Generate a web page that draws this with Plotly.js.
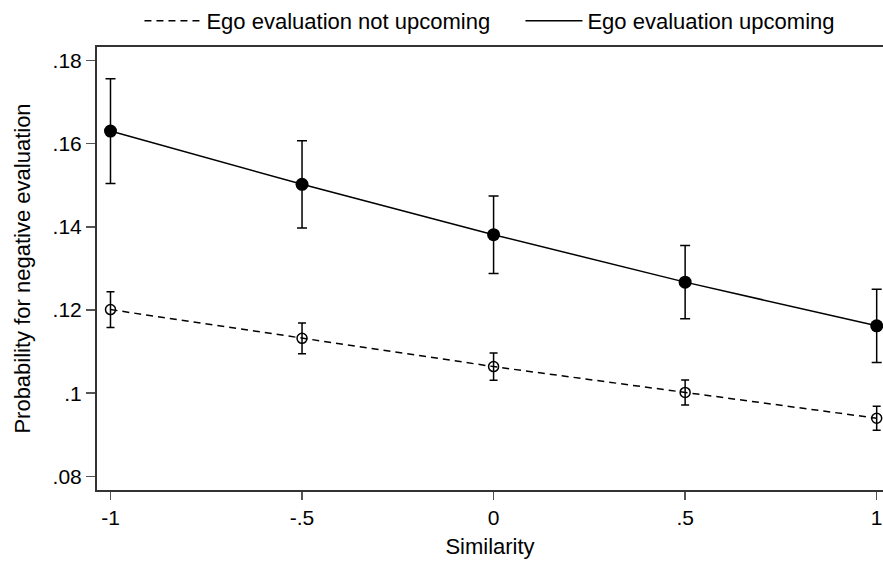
<!DOCTYPE html>
<html>
<head>
<meta charset="utf-8">
<script src="https://cdn.plot.ly/plotly-3.0.1.min.js"></script>
<style>html,body{margin:0;padding:0;background:#fff;}#chart{width:883px;height:561px;}</style>
</head>
<body>
<div id="chart"></div>
<script>
const similarity = [-1, -0.5, 0, 0.5, 1];
const notUpcoming = [0.1201, 0.1132, 0.1064, 0.1002, 0.0940];
const notUpcomingErr = [0.0043, 0.0037, 0.0033, 0.0030, 0.0029];
const upcoming = [0.1630, 0.1502, 0.1381, 0.1267, 0.1162];
const upcomingErr = [0.0126, 0.0105, 0.0093, 0.0088, 0.0088];
const xTickVals = [-1, -0.5, 0, 0.5, 1];
const xTickText = ['-1', '-.5', '0', '.5', '1'];
const yTickVals = [0.08, 0.10, 0.12, 0.14, 0.16, 0.18];
const yTickText = ['.08', '.1', '.12', '.14', '.16', '.18'];

const traces = [
  {x: similarity, y: notUpcoming, mode: 'lines', name: 'Ego evaluation not upcoming',
   line: {color: '#000', width: 1.5, dash: '7px,5px'}, showlegend: true, hoverinfo: 'skip'},
  {x: similarity, y: upcoming, mode: 'lines', name: 'Ego evaluation upcoming',
   line: {color: '#000', width: 1.5}, showlegend: true, hoverinfo: 'skip'},
  {x: similarity, y: notUpcoming, mode: 'markers', showlegend: false,
   marker: {symbol: 'circle-open', size: 10, color: '#000', line: {width: 1.5}},
   error_y: {type: 'data', array: notUpcomingErr, visible: true, color: '#000', thickness: 1.5, width: 4}},
  {x: similarity, y: upcoming, mode: 'markers', showlegend: false,
   marker: {symbol: 'circle', size: 13, color: '#000'},
   error_y: {type: 'data', array: upcomingErr, visible: true, color: '#000', thickness: 1.5, width: 5}}
];

const layout = {
  width: 883, height: 561,
  margin: {l: 97, r: 0, t: 47, b: 71, pad: 0, autoexpand: false},
  paper_bgcolor: '#fff', plot_bgcolor: '#fff',
  font: {family: 'Liberation Sans, Arial, sans-serif', size: 21, color: '#000'},
  showlegend: true,
  legend: {orientation: 'h', x: 0.054, xanchor: 'left', yref: 'container', y: 1, yanchor: 'top',
           font: {size: 22, color: '#000'}, entrywidth: 309, entrywidthmode: 'pixels', itemwidth: 57,
           bgcolor: 'rgba(0,0,0,0)'},
  xaxis: {range: [-1.0352, 1.0165], tickvals: xTickVals, ticktext: xTickText,
          showgrid: false, zeroline: false, showline: true, linecolor: '#333', linewidth: 2,
          mirror: true, ticks: 'outside', ticklen: 8, tickwidth: 1.5, tickcolor: '#555',
          title: {text: 'Similarity', font: {size: 22}, standoff: 10}},
  yaxis: {range: [0.07675, 0.1832], tickvals: yTickVals, ticktext: yTickText,
          showgrid: false, zeroline: false, showline: true, linecolor: '#333', linewidth: 2,
          ticks: 'outside', ticklen: 9, tickwidth: 1.5, tickcolor: '#555',
          title: {text: 'Probability for negative evaluation', font: {size: 22}, standoff: 16}}
};

Plotly.newPlot('chart', traces, layout, {displayModeBar: false, staticPlot: true});
</script>
</body>
</html>
